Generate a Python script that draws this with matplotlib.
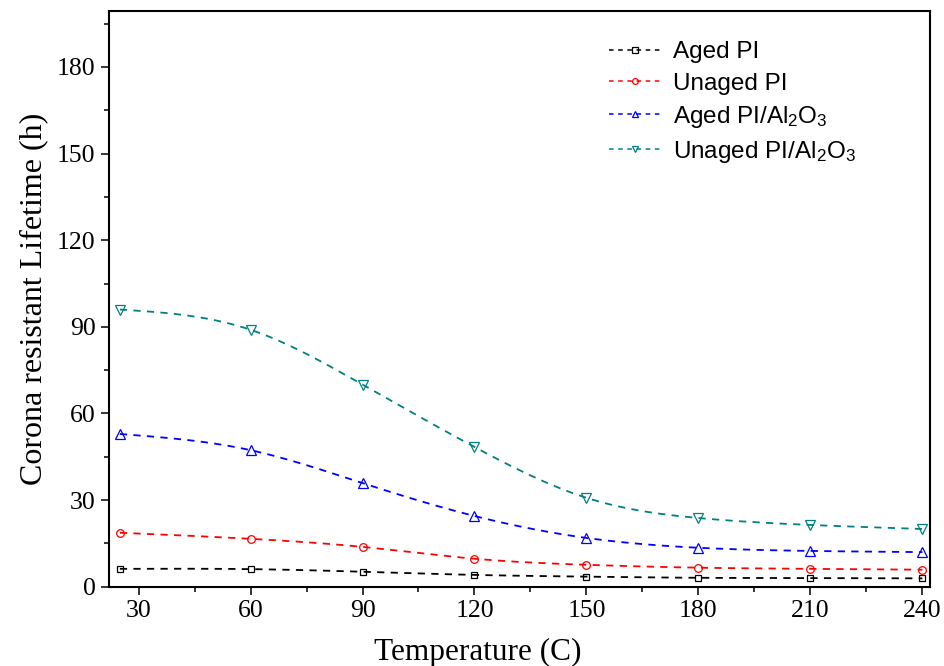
"""Corona resistant lifetime vs temperature (PI / PI-Al2O3 films)"""
import matplotlib
matplotlib.use("Agg")
import matplotlib.pyplot as plt
from matplotlib.ticker import MultipleLocator
import numpy as np

plt.rcParams["font.family"] = ["Liberation Serif", "DejaVu Serif"]
plt.rcParams["mathtext.default"] = "regular"

temperature = [25, 60, 90, 120, 150, 180, 210, 240]
aged_pi = [6.2, 6.1, 5.2, 4.1, 3.5, 3.1, 3.0, 2.9]
unaged_pi = [18.7, 16.6, 13.8, 9.7, 7.6, 6.6, 6.2, 5.9]
aged_pi_al2o3 = [52.9, 47.3, 35.9, 24.5, 16.9, 13.5, 12.4, 12.0]
unaged_pi_al2o3 = [96.0, 89.0, 70.0, 48.4, 30.8, 23.8, 21.4, 20.0]

labels = ["Aged PI", "Unaged PI", r"Aged PI/Al$_2$O$_3$", r"Unaged PI/Al$_2$O$_3$"]
colors = ["black", "#FF0000", "#0000FF", "#008080"]
markers = ["s", "o", "^", "v"]
msizes = [5, 5.5, 6.5, 6.5]


def smooth(x, y, num=300):
    # natural cubic spline, only used to draw the dashed curve
    x = np.asarray(x, float)
    y = np.asarray(y, float)
    n = len(x)
    h = np.diff(x)
    A = np.zeros((n, n))
    b = np.zeros(n)
    A[0, 0] = A[-1, -1] = 1
    for i in range(1, n - 1):
        A[i, i - 1] = h[i - 1]
        A[i, i] = 2 * (h[i - 1] + h[i])
        A[i, i + 1] = h[i]
        b[i] = 6 * ((y[i + 1] - y[i]) / h[i] - (y[i] - y[i - 1]) / h[i - 1])
    M = np.linalg.solve(A, b)
    xs = np.linspace(x[0], x[-1], num)
    idx = np.clip(np.searchsorted(x, xs) - 1, 0, n - 2)
    x0, x1, hi = x[idx], x[idx + 1], h[idx]
    ys = (M[idx] * (x1 - xs)**3 / (6 * hi) + M[idx + 1] * (xs - x0)**3 / (6 * hi)
          + (y[idx] / hi - M[idx] * hi / 6) * (x1 - xs)
          + (y[idx + 1] / hi - M[idx + 1] * hi / 6) * (xs - x0))
    return xs, ys


fig = plt.figure(figsize=(9.45, 6.66), dpi=100)
ax = fig.add_axes([0.115, 0.119, 0.869, 0.865])

series = [aged_pi, unaged_pi, aged_pi_al2o3, unaged_pi_al2o3]
for vals, lab, c, m, ms in zip(series, labels, colors, markers, msizes):
    xs, ys = smooth(temperature, vals)
    ax.plot(xs, ys, color=c, lw=1.3, linestyle=(0, (4, 3.5)))
    ax.plot(temperature, vals, linestyle="none", marker=m, ms=ms,
            mfc="none", mec=c, mew=0.9)
    # legend proxy
    ax.plot([], [], color=c, lw=1.1, linestyle=(0, (3, 3)), marker=m,
            ms=ms * 0.75, mfc="none", mec=c, mew=0.9, label=lab)

ax.set_xlim(22, 242)
ax.set_ylim(0, 199.5)
ax.xaxis.set_major_locator(MultipleLocator(30))
ax.xaxis.set_minor_locator(MultipleLocator(15))
ax.yaxis.set_major_locator(MultipleLocator(30))
ax.yaxis.set_minor_locator(MultipleLocator(15))
ax.tick_params(which="both", direction="out", width=1.1, labelsize=18.5)
ax.tick_params(which="major", length=6)
ax.tick_params(which="minor", length=3.5)
for s in ax.spines.values():
    s.set_linewidth(1.5)

ax.set_xlabel("Temperature (C)", fontsize=22.5)
ax.xaxis.set_label_coords(0.45, -0.088)
ax.set_ylabel("Corona resistant Lifetime (h)", fontsize=23, labelpad=6)

handles, labs = ax.get_legend_handles_labels()
ax.legend(handles, labs, loc="upper left", bbox_to_anchor=(0.595, 0.968),
          frameon=False, borderpad=0, handlelength=2.1, handletextpad=0.5,
          labelspacing=0.38, prop={"family": "Liberation Sans", "size": 17.5})

plt.savefig("out.png", dpi=100)
plt.close()
